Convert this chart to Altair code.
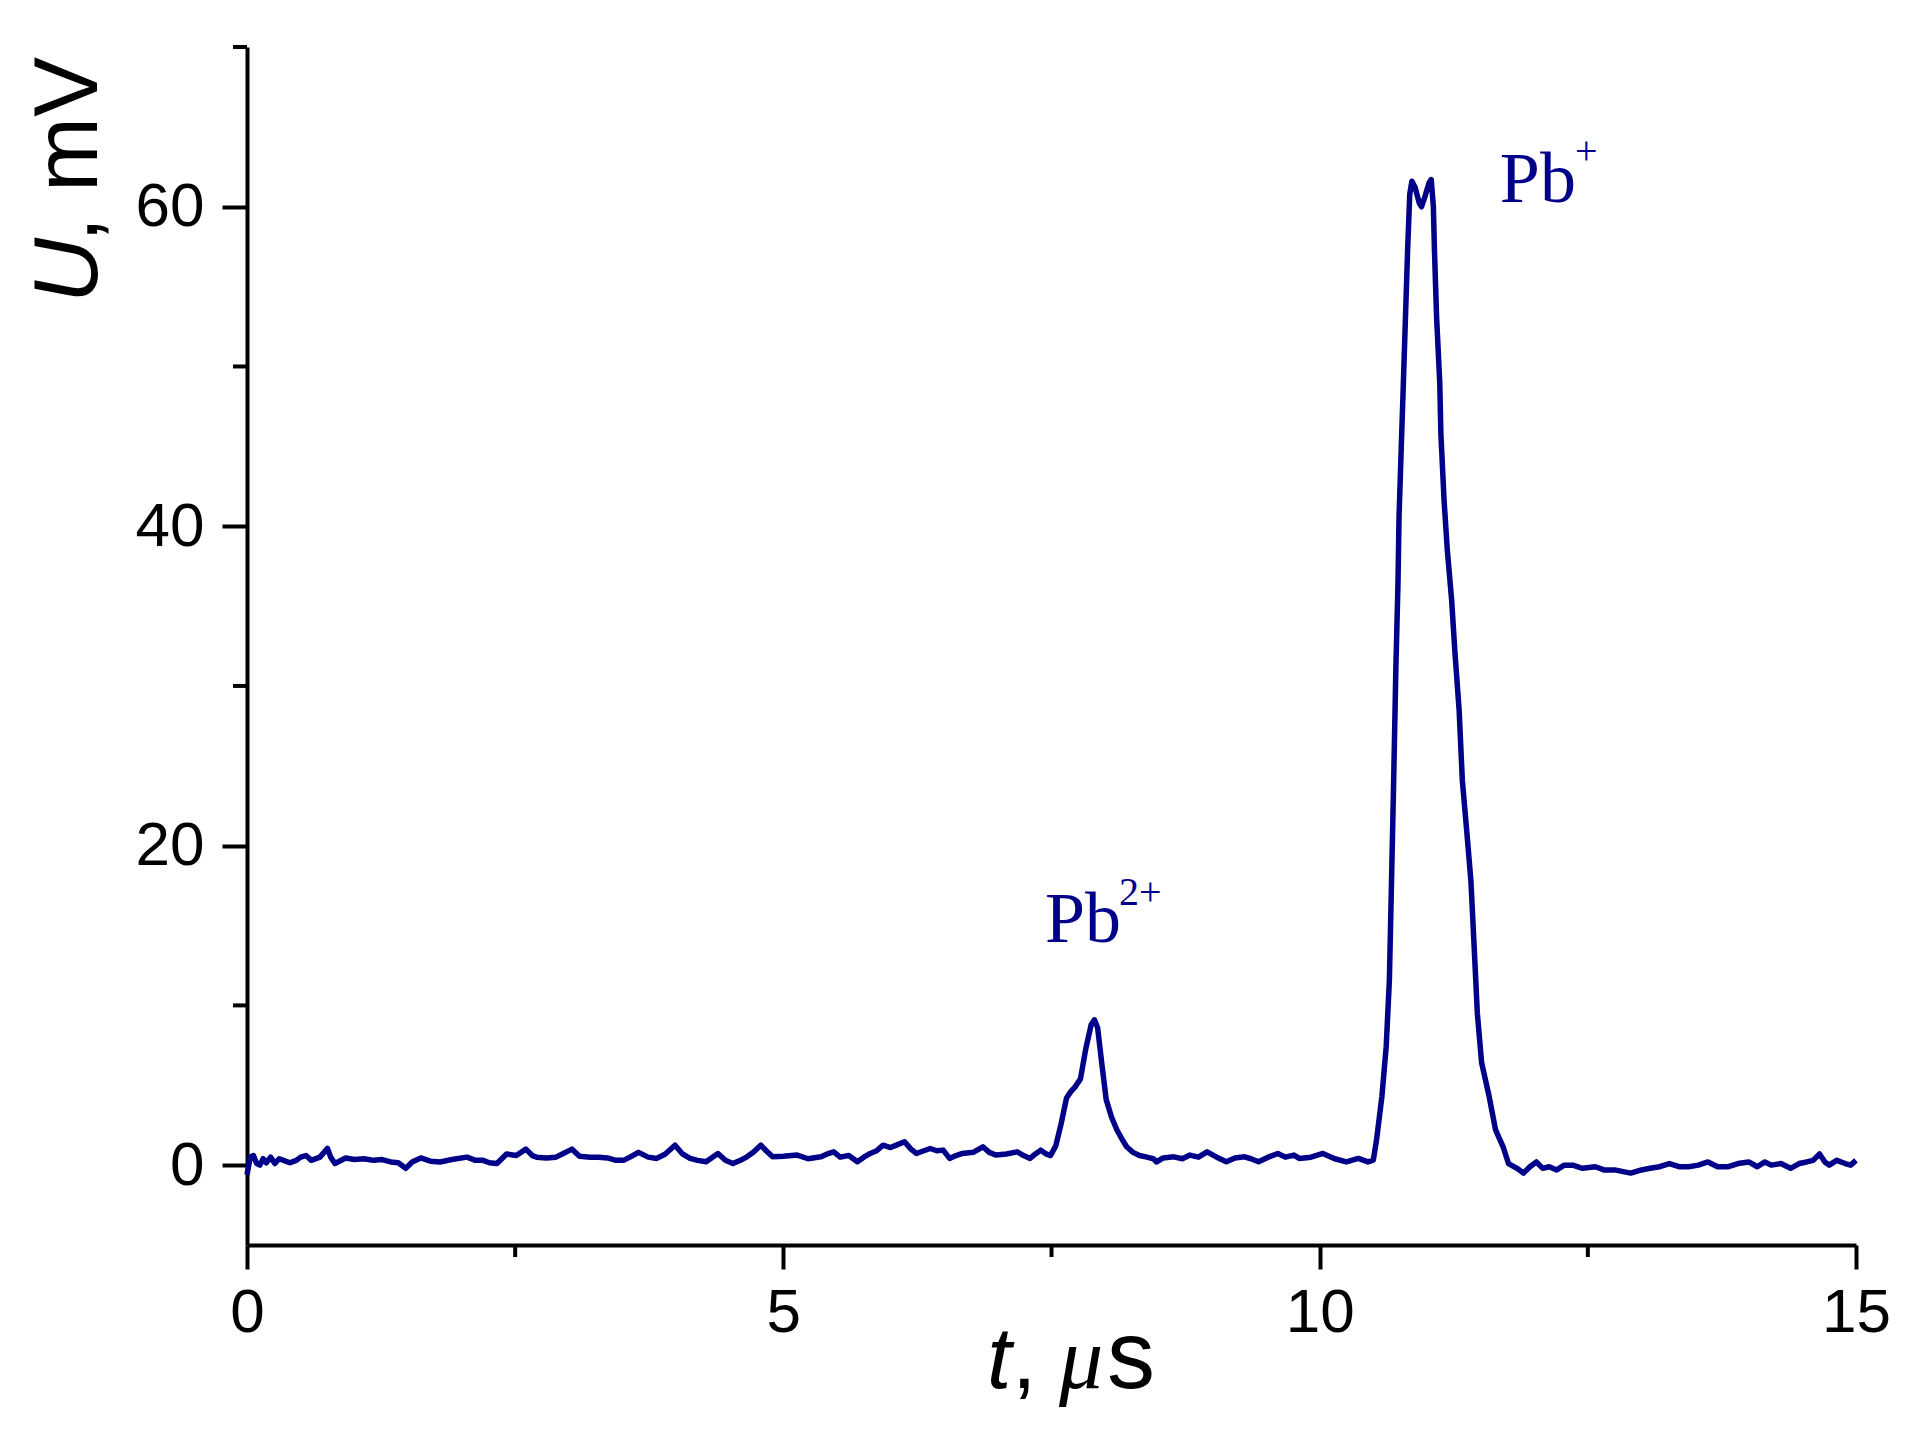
import altair as alt
import pandas as pd

# ---- data, in segments ----
# baseline 0 - 7.5 us
T_BASE1 = [0.00, 0.03, 0.06, 0.09, 0.12, 0.15, 0.18, 0.22, 0.26, 0.30, 0.34, 0.40, 0.46, 0.50, 0.55, 0.60,
           0.68, 0.75, 0.78, 0.82, 0.92, 1.00, 1.09, 1.18, 1.26, 1.34, 1.41, 1.48, 1.54, 1.62, 1.71, 1.80,
           1.91, 2.05, 2.13, 2.20, 2.26, 2.33, 2.42, 2.51, 2.60, 2.66, 2.70, 2.79, 2.88, 2.94, 3.03, 3.10,
           3.20, 3.28, 3.36, 3.44, 3.51, 3.57, 3.65, 3.74, 3.82, 3.90, 3.99, 4.06, 4.13, 4.20, 4.28, 4.34,
           4.39, 4.46, 4.53, 4.60, 4.66, 4.72, 4.79, 4.84, 4.90, 5.00, 5.13, 5.23, 5.35, 5.41, 5.47, 5.53,
           5.61, 5.69, 5.75, 5.81, 5.87, 5.93, 6.00, 6.07, 6.13, 6.19, 6.24, 6.31, 6.37, 6.43, 6.49, 6.55,
           6.61, 6.67, 6.77, 6.86, 6.92, 6.98, 7.08, 7.18, 7.24, 7.30, 7.35, 7.40, 7.45, 7.49]
U_BASE1 = [-0.6, 0.5, 0.6, 0.1, 0.0, 0.4, 0.15, 0.5, 0.1, 0.4, 0.3, 0.15, 0.3, 0.5, 0.6, 0.3,
           0.5, 1.05, 0.5, 0.1, 0.45, 0.35, 0.4, 0.3, 0.35, 0.2, 0.15, -0.2, 0.2, 0.45, 0.25, 0.2,
           0.35, 0.5, 0.3, 0.3, 0.15, 0.1, 0.7, 0.6, 1.0, 0.6, 0.5, 0.45, 0.5, 0.7, 1.0, 0.55,
           0.5, 0.5, 0.45, 0.3, 0.3, 0.5, 0.8, 0.5, 0.42, 0.7, 1.25, 0.7, 0.42, 0.3, 0.21, 0.5,
           0.73, 0.3, 0.1, 0.3, 0.52, 0.8, 1.25, 0.9, 0.52, 0.55, 0.63, 0.4, 0.52, 0.7, 0.83, 0.5,
           0.6, 0.21, 0.5, 0.73, 0.9, 1.25, 1.1, 1.3, 1.46, 1.0, 0.73, 0.9, 1.04, 0.9, 0.94, 0.42,
           0.6, 0.73, 0.8, 1.15, 0.8, 0.63, 0.7, 0.83, 0.6, 0.42, 0.7, 0.94, 0.7, 0.6]
# Pb2+ peak and baseline up to ~9.8 us
T_PEAK2 = [7.54, 7.59, 7.64, 7.68, 7.72, 7.77, 7.82, 7.87, 7.90, 7.93, 7.97, 8.01, 8.06, 8.11, 8.16, 8.20,
           8.26, 8.32, 8.39, 8.45, 8.48, 8.54, 8.64, 8.72, 8.79, 8.87, 8.95, 9.04, 9.13, 9.21, 9.30, 9.36,
           9.43, 9.52, 9.61, 9.68, 9.76]
U_PEAK2 = [1.2, 2.6, 4.2, 4.6, 4.9, 5.4, 7.3, 8.8, 9.1, 8.6, 6.3, 4.1, 3.0, 2.2, 1.6, 1.15,
           0.8, 0.6, 0.5, 0.4, 0.2, 0.45, 0.52, 0.4, 0.63, 0.5, 0.83, 0.5, 0.21, 0.45, 0.52, 0.4,
           0.21, 0.5, 0.73, 0.5, 0.63]
# baseline before the Pb+ peak
T_BASE2 = [9.81, 9.92, 10.03, 10.14, 10.25, 10.36, 10.45, 10.50]
U_BASE2 = [0.42, 0.5, 0.73, 0.4, 0.2, 0.42, 0.2, 0.31]
# Pb+ peak
T_PEAK1 = [10.53, 10.58, 10.62, 10.65, 10.67, 10.69, 10.71, 10.73, 10.74, 10.76, 10.78, 10.80, 10.82,
           10.84, 10.86, 10.89, 10.93, 10.95, 10.98, 11.02, 11.04, 11.06, 11.07, 11.09, 11.12, 11.13,
           11.16, 11.19, 11.23, 11.26, 11.30, 11.33, 11.37, 11.41, 11.44, 11.47, 11.51, 11.58, 11.64,
           11.71, 11.76]
U_PEAK1 = [1.57, 4.28, 7.4, 11.6, 17.8, 24.1, 31.0, 36.4, 40.6, 44.8, 48.9, 53.1, 57.3,
           60.8, 61.6, 61.2, 60.2, 60.0, 60.6, 61.5, 61.7, 60.0, 57.3, 53.1, 48.9, 45.8,
           41.6, 38.5, 35.4, 32.2, 28.5, 24.1, 21.0, 17.8, 13.7, 9.5, 6.4, 4.3, 2.2,
           1.15, 0.1]
# baseline after the Pb+ peak
T_BASE3 = [11.84, 11.90, 11.96, 12.02, 12.08, 12.14, 12.21, 12.28, 12.36, 12.45,
           12.57, 12.65, 12.75, 12.90, 13.00, 13.08, 13.17, 13.26, 13.35, 13.44, 13.53, 13.62, 13.71,
           13.81, 13.90, 14.00, 14.08, 14.15, 14.21, 14.30, 14.39, 14.47, 14.54, 14.60, 14.66, 14.71,
           14.75, 14.82, 14.90, 14.95, 15.00]
U_BASE3 = [-0.2, -0.5, -0.1, 0.2, -0.2, -0.1, -0.3, 0.0, 0.0, -0.2,
           -0.1, -0.3, -0.3, -0.5, -0.3, -0.2, -0.1, 0.1, -0.1, -0.1, 0.0, 0.2, -0.1,
           -0.1, 0.1, 0.2, -0.1, 0.2, 0.0, 0.1, -0.2, 0.1, 0.2, 0.3, 0.7, 0.2,
           0.0, 0.3, 0.1, 0.0, 0.3]

X_MAJOR = [0, 5, 10, 15]
X_MINOR = [2.5, 7.5, 12.5]
Y_MAJOR = [0, 20, 40, 60]
Y_MINOR = [10, 30, 50, 70]

ANN_T = [7.44, 11.68]
ANN_U = [13.98, 60.3]
ANN_TEXT = ["Pb", "Pb"]
SUP_T = [8.13, 12.38]
SUP_U = [16.3, 62.7]
SUP_TEXT = ["2+", "+"]

NAVY = "#000088"
SANS = "Liberation Sans"
SERIF = "Liberation Serif"
W, H = 1609, 1198

df = pd.DataFrame({
    "t": T_BASE1 + T_PEAK2 + T_BASE2 + T_PEAK1 + T_BASE3,
    "U": U_BASE1 + U_PEAK2 + U_BASE2 + U_PEAK1 + U_BASE3,
})
xs = alt.Scale(domain=[0, 15], nice=False, zero=False)
ys = alt.Scale(domain=[-5, 70], nice=False, zero=False)

x_axis = alt.Axis(values=X_MAJOR, title=None, grid=False, domainColor="black", domainWidth=4,
                  tickColor="black", tickWidth=4, tickSize=24, labelFont=SANS, labelFontSize=62,
                  labelColor="black", labelPadding=13, labelFlush=False, labelOverlap=False,
                  format="d")
y_axis = alt.Axis(values=Y_MAJOR, title=None, grid=False, domainColor="black", domainWidth=4,
                  tickColor="black", tickWidth=4, tickSize=25, labelFont=SANS, labelFontSize=62,
                  labelColor="black", labelPadding=18, labelFlush=False, labelOverlap=False,
                  format="d")

line = alt.Chart(df).mark_line(color=NAVY, strokeWidth=5.5, strokeJoin="round").encode(
    x=alt.X("t:Q", scale=xs, axis=x_axis),
    y=alt.Y("U:Q", scale=ys, axis=y_axis),
    order=alt.Order("t:Q"),
)

xminor = alt.Chart(pd.DataFrame({"m": X_MINOR})).mark_rule(color="black", strokeWidth=4).encode(
    x=alt.X("m:Q", scale=xs, axis=x_axis),
    y=alt.value(H), y2=alt.value(H + 12),
)
yminor = alt.Chart(pd.DataFrame({"m": Y_MINOR})).mark_rule(color="black", strokeWidth=4).encode(
    y=alt.Y("m:Q", scale=ys, axis=y_axis),
    x=alt.value(0), x2=alt.value(-14),
)

ann = alt.Chart(pd.DataFrame({"t": ANN_T, "U": ANN_U, "s": ANN_TEXT})).mark_text(
    font=SERIF, fontSize=72, color=NAVY, align="left", baseline="alphabetic"
).encode(x=alt.X("t:Q", scale=xs, axis=x_axis), y=alt.Y("U:Q", scale=ys, axis=y_axis), text="s:N")
sup = alt.Chart(pd.DataFrame({"t": SUP_T, "U": SUP_U, "s": SUP_TEXT})).mark_text(
    font=SERIF, fontSize=40, color=NAVY, align="left", baseline="alphabetic"
).encode(x=alt.X("t:Q", scale=xs, axis=x_axis), y=alt.Y("U:Q", scale=ys, axis=y_axis), text="s:N")


def title_piece(txt, x, y, size, style="normal", font=SANS, angle=0, align="left"):
    kw = dict(font=font, fontSize=size, fontStyle=style, color="black", align=align,
              baseline="alphabetic")
    if angle:
        kw["angle"] = angle
    return alt.Chart(pd.DataFrame({"s": [txt]})).mark_text(**kw).encode(
        x=alt.value(x), y=alt.value(y), text="s:N")


ytitle_u = title_piece("U", -150, 256, 90, style="italic", angle=270, align="left")
ytitle_rest = title_piece(", mV", -150, 10, 90, angle=270, align="right")

xt_base = 1341
xtitle_t = title_piece("t", 740, xt_base, 88, style="italic")
xtitle_c = title_piece(",", 765, xt_base, 88)
xtitle_mu = title_piece("\u03bc", 812, xt_base, 88, style="italic", font=SERIF)
xtitle_s = title_piece("s", 860, xt_base, 96)

chart = alt.layer(
    line, xminor, yminor, ann, sup,
    ytitle_u, ytitle_rest, xtitle_t, xtitle_c, xtitle_mu, xtitle_s,
).properties(
    width=W, height=H,
    autosize=alt.AutoSizeParams(type="none"),
    padding={"left": 239, "top": 39, "right": 40, "bottom": 170},
    background="white",
).configure_view(stroke=None)

chart.save("out.html", embed_options={"renderer": "svg", "actions": False})
